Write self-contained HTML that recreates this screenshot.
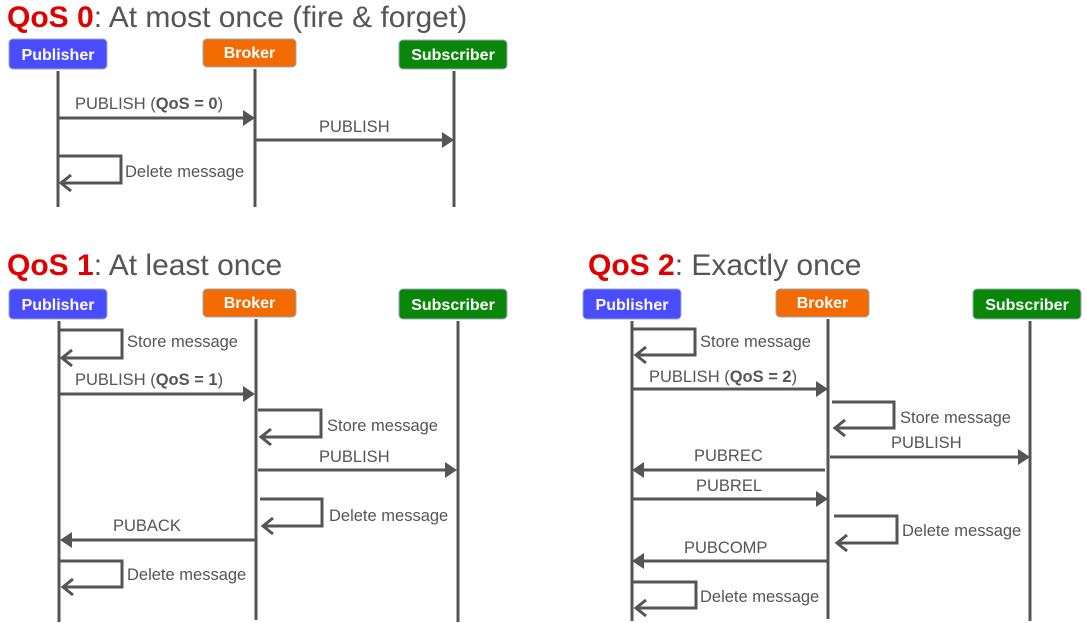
<!DOCTYPE html>
<html><head><meta charset="utf-8"><style>
html,body{margin:0;padding:0;background:#fff;}
svg{display:block;}
text{font-family:"Liberation Sans",Arial,sans-serif;}
.l{fill:#555;font-size:16.5px;}
.t{font-size:30px;fill:#555;}
.r{fill:#e00000;font-weight:bold;}
.bx{font-size:16px;fill:#fff;font-weight:bold;text-anchor:middle;}
.ln{stroke:#555;stroke-width:3;fill:none;}
.ah{fill:#555;}
</style></head><body>
<svg width="1087" height="623" viewBox="0 0 1087 623" xmlns="http://www.w3.org/2000/svg">
<!-- QoS 0 -->
<text x="7" y="27" class="t"><tspan class="r">QoS 0</tspan>: At most once (fire &amp; forget)</text>
<rect x="9" y="39" width="98" height="30" rx="4" fill="#4a4cff" stroke="#9ab" stroke-width="1"/>
<text x="58" y="60" class="bx">Publisher</text>
<rect x="203" y="39" width="93" height="28" rx="4" fill="#f26a00" stroke="#9ab" stroke-width="1"/>
<text x="249.500" y="58" class="bx">Broker</text>
<rect x="399" y="40" width="108" height="29" rx="4" fill="#0a870a" stroke="#9ab" stroke-width="1"/>
<text x="453" y="60" class="bx">Subscriber</text>
<path class="ln" d="M58 71V207M255 69V207M454 71V207"/>
<path class="ln" d="M58 118H244"/><path class="ah" d="M255 118L243 110V126Z"/>
<text x="75" y="109" class="l">PUBLISH (<tspan font-weight="bold">QoS = 0</tspan>)</text>
<path class="ln" d="M255 140H443"/><path class="ah" d="M454 140L442 132V148Z"/>
<text x="319" y="132" class="l">PUBLISH</text>
<path class="ln" d="M58 156H121V183H61M71 175L61 183L71 191"/>
<text x="125" y="177" class="l">Delete message</text>

<!-- QoS 1 -->
<text x="7" y="275" class="t"><tspan class="r">QoS 1</tspan>: At least once</text>
<rect x="9" y="289" width="98" height="30" rx="4" fill="#4a4cff" stroke="#9ab" stroke-width="1"/>
<text x="58" y="310" class="bx">Publisher</text>
<rect x="203" y="289" width="93" height="28" rx="4" fill="#f26a00" stroke="#9ab" stroke-width="1"/>
<text x="249.500" y="308" class="bx">Broker</text>
<rect x="399" y="289" width="108" height="30" rx="4" fill="#0a870a" stroke="#9ab" stroke-width="1"/>
<text x="453" y="310" class="bx">Subscriber</text>
<path class="ln" d="M59 321V622M256 319V620M458 321V622"/>
<path class="ln" d="M59 330H122V358H62M72 350L62 358L72 366"/>
<text x="127" y="347" class="l">Store message</text>
<path class="ln" d="M59 394H244"/><path class="ah" d="M255 394L243 386V402Z"/>
<text x="75" y="385" class="l">PUBLISH (<tspan font-weight="bold">QoS = 1</tspan>)</text>
<path class="ln" d="M258 410H321V437H261M271 429L261 437L271 445"/>
<text x="327" y="431" class="l">Store message</text>
<path class="ln" d="M258 470H446"/><path class="ah" d="M457 470L445 462V478Z"/>
<text x="319" y="462" class="l">PUBLISH</text>
<path class="ln" d="M260 499H322V526H263M273 518L263 526L273 534"/>
<text x="329" y="521" class="l">Delete message</text>
<path class="ln" d="M255 540H70"/><path class="ah" d="M60 540L72 532V548Z"/>
<text x="113" y="531" class="l">PUBACK</text>
<path class="ln" d="M60 561H122V587H63M73 579L63 587L73 595"/>
<text x="127" y="580" class="l">Delete message</text>

<!-- QoS 2 -->
<text x="588" y="275" class="t"><tspan class="r">QoS 2</tspan>: Exactly once</text>
<rect x="583" y="289" width="98" height="30" rx="4" fill="#4a4cff" stroke="#9ab" stroke-width="1"/>
<text x="632" y="310" class="bx">Publisher</text>
<rect x="776" y="289" width="93" height="28" rx="4" fill="#f26a00" stroke="#9ab" stroke-width="1"/>
<text x="822.500" y="308" class="bx">Broker</text>
<rect x="973" y="289" width="108" height="30" rx="4" fill="#0a870a" stroke="#9ab" stroke-width="1"/>
<text x="1027" y="310" class="bx">Subscriber</text>
<path class="ln" d="M632 321V621M828 319V619M1030 321V621"/>
<path class="ln" d="M633 329H695V355H636M646 347L636 355L646 363"/>
<text x="700" y="347" class="l">Store message</text>
<path class="ln" d="M632 389H817"/><path class="ah" d="M828 389L816 381V397Z"/>
<text x="649" y="382" class="l">PUBLISH (<tspan font-weight="bold">QoS = 2</tspan>)</text>
<path class="ln" d="M832 402H894V428H835M845 420L835 428L845 436"/>
<text x="900" y="423" class="l">Store message</text>
<path class="ln" d="M830 457H1019"/><path class="ah" d="M1030 457L1018 449V465Z"/>
<text x="891" y="448" class="l">PUBLISH</text>
<path class="ln" d="M825 470H642"/><path class="ah" d="M632 470L644 462V478Z"/>
<text x="694" y="461" class="l">PUBREC</text>
<path class="ln" d="M632 499H817"/><path class="ah" d="M828 499L816 491V507Z"/>
<text x="696" y="491" class="l">PUBREL</text>
<path class="ln" d="M834 516H897V543H837M847 535L837 543L847 551"/>
<text x="902" y="536" class="l">Delete message</text>
<path class="ln" d="M828 561H642"/><path class="ah" d="M632 561L644 553V569Z"/>
<text x="684" y="553" class="l">PUBCOMP</text>
<path class="ln" d="M633 582H696V608H636M646 600L636 608L646 616"/>
<text x="700" y="602" class="l">Delete message</text>
</svg>
</body></html>
